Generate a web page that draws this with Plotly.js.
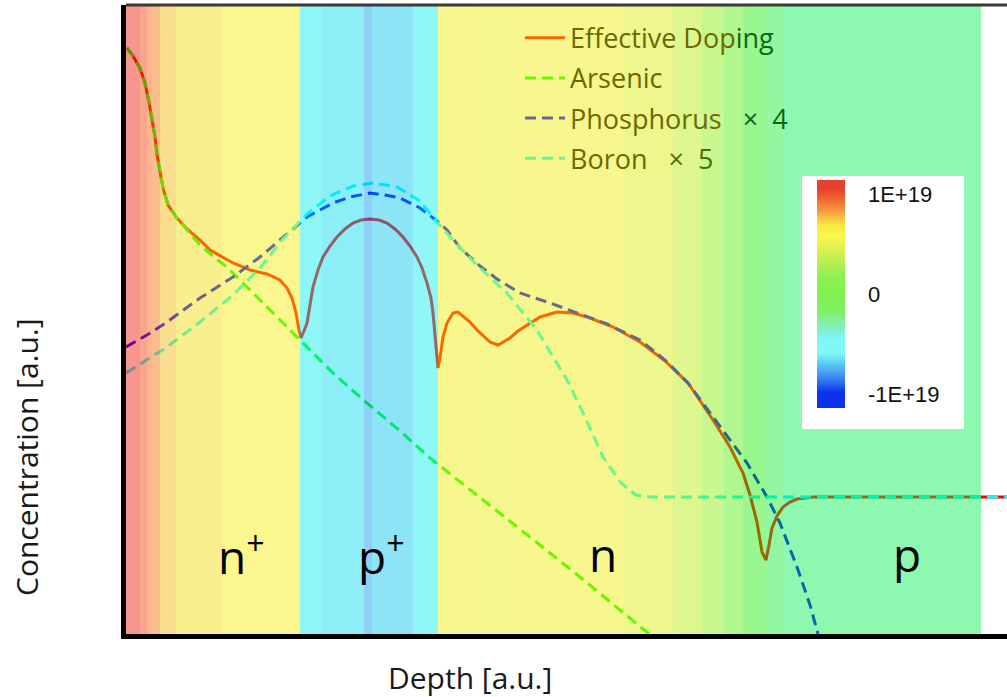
<!DOCTYPE html>
<html>
<head>
<meta charset="utf-8">
<script src="https://cdn.plot.ly/plotly-3.0.1.min.js"></script>
<style>
  html, body { margin: 0; padding: 0; background: #ffffff; }
  #chart { width: 1007px; height: 697px; }
</style>
</head>
<body>
<div id="chart"></div>
<script>
// ---------- DATA (arbitrary units) ----------
const effDepth = [1,7,14,19,23,26,29,31,34,37,42,51,61,74,84,96,107,124,141,154,161,166,170,173,175,178,181,184,187,192,197,204,211,219,227,235,244,253,261,269,277,284,291,296,301,305,307,309,311,312,314,317,321,327,332,337,344,351,358,364,372,379,384,392,401,414,431,447,464,487,514,539,562,587,604,617,624,631,636,640,643,646,651,657,664,671,687,704,881];
const effConc  = [586,578,566,551,532,516,497,480,462,446,429,416,405,394,384,377,371,364,360,354,346,336,321,304,296,303,311,329,347,364,377,388,397,405,411,414,415,414,411,405,397,388,377,366,351,336,321,299,276,266,276,297,311,321,322,318,312,304,297,292,289,293,296,303,309,317,322,321,316,307,292,273,251,214,187,161,139,112,82,74,89,106,118,127,132,135,137,137,137];

const asDepth = [1,7,14,19,23,26,29,31,34,37,42,51,61,74,89,101,117,141,161,174,207,241,274,304,341,374,414,454,488,523];
const asConc  = [586,578,566,551,532,516,497,480,462,446,429,416,404,389,376,367,351,327,307,294,261,231,203,176,147,121,89,57,29,0];

const pDepth = [0,21,41,74,107,134,161,181,207,224,244,259,274,294,311,321,334,354,371,394,424,451,481,514,539,562,587,604,621,641,654,671,684,692];
const pConc  = [287,299,312,336,357,377,400,417,431,437,441,439,436,426,413,404,386,368,355,341,331,321,310,294,274,251,217,194,171,137,111,67,29,0];

const bDepth = [0,21,41,74,107,134,156,181,204,227,247,271,294,311,334,354,367,381,397,411,421,431,441,459,477,495,510,525,881];
const bConc  = [261,274,287,312,339,366,394,420,438,448,451,447,433,412,386,366,354,341,321,304,287,271,254,217,177,151,139,137,137];

// Net doping map along depth (units of 1E+19), drawn as the colour background
const bandEdges = [0,14,21,26,34,50,97,174,196,238,246,287,312,352,390,497,547,576,598,617,639,657,855];
const bandNetDoping = [1.0,0.95,0.9,0.87,0.78,0.69,0.65,-0.35,-0.42,-0.6,-0.48,-0.35,0.64,0.62,0.64,0.58,0.49,0.35,0.23,0.1,-0.02,-0.12];

const seriesNames = [
  'Effective Dop<span style="color:#0a6912">ing</span>',
  'Arsenic',
  'Phosphorus\u00a0\u00a0\u00a0<span style="color:#036914">×\u00a0\u00a04</span>',
  'Boron\u00a0\u00a0\u00a0<span style="color:#556902">×\u00a0\u00a05</span>'
];
const regionLabels = ['n<sup>+</sup>','p<sup>+</sup>','n','p'];
const regionDepth  = [115,255,477,781];
const cbTickVals = [-1, 0, 1];
const cbTickText = ['-1E+19', '0', '1E+19'];

// ---------- STYLE ----------
const overlayScale = [
  [0,'rgb(0,0,239)'],[0.2,'rgb(0,149,239)'],[0.29,'rgb(0,217,239)'],[0.325,'rgb(5,239,239)'],
  [0.44,'rgb(0,239,77)'],[0.55,'rgb(23,239,0)'],[0.675,'rgb(131,239,5)'],[0.825,'rgb(244,239,0)'],
  [0.89,'rgb(246,178,2)'],[0.95,'rgb(244,88,0)'],[1,'rgb(241,16,0)']
];
const barScale = [
  [0,'#1030F0'],[0.07,'#1030F0'],[0.1,'#2060F0'],[0.14,'#4090F0'],[0.17,'#50B0F0'],[0.2,'#60D0F8'],
  [0.24,'#80F8F8'],[0.3,'#80F8F8'],[0.34,'#80F0D0'],[0.38,'#80F0A0'],[0.43,'#80F060'],[0.5,'#80F050'],
  [0.58,'#90F050'],[0.64,'#B8F050'],[0.7,'#E0F050'],[0.75,'#F8F850'],[0.8,'#F8E840'],[0.83,'#F8C840'],
  [0.86,'#F4A040'],[0.9,'#F07A30'],[0.93,'#EC5A30'],[0.96,'#E84030'],[1,'#E84030']
];
const FONT = 'Open Sans, Noto Sans, sans-serif';
const dashPat = '11px,6px';

const traces = [
  {type:'scatter', mode:'lines', x:effDepth, y:effConc, line:{color:'#FF0000', width:3}, showlegend:false, hoverinfo:'skip'},
  {type:'scatter', mode:'lines', x:asDepth, y:asConc, line:{color:'#00FF00', width:3, dash:dashPat}, showlegend:false, hoverinfo:'skip'},
  {type:'scatter', mode:'lines', x:pDepth, y:pConc, line:{color:'#0000FF', width:3, dash:dashPat}, showlegend:false, hoverinfo:'skip'},
  {type:'scatter', mode:'lines', x:bDepth, y:bConc, line:{color:'#00FFFF', width:3, dash:dashPat}, showlegend:false, hoverinfo:'skip'},
  // legend entries (colours as seen through the doping map)
  {type:'scatter', mode:'lines', x:[null], y:[null], name:seriesNames[0], legendgroup:'g0', line:{color:'#F86900', width:3}},
  {type:'scatter', mode:'lines', x:[null], y:[null], name:seriesNames[1], legendgroup:'g1', line:{color:'#69F800', width:3, dash:dashPat}},
  {type:'scatter', mode:'lines', x:[null], y:[null], name:seriesNames[2], legendgroup:'g2', line:{color:'#69698F', width:3, dash:dashPat}},
  {type:'scatter', mode:'lines', x:[null], y:[null], name:seriesNames[3], legendgroup:'g3', line:{color:'#69F88F', width:3, dash:dashPat}},
  // colour scale
  {type:'scatter', mode:'markers', x:[null], y:[null], showlegend:false, hoverinfo:'skip',
   marker:{color:[0], cmin:-1.14, cmax:1.14, colorscale:barScale, showscale:true, opacity:0,
     colorbar:{xref:'container', yref:'container', x:817/1007, xanchor:'left', y:1-200/697, yanchor:'top',
       len:228, lenmode:'pixels', thickness:28, thicknessmode:'pixels', xpad:0, ypad:0,
       outlinewidth:0, ticks:'outside', ticklen:19, tickcolor:'rgba(0,0,0,0)',
       tickvals:cbTickVals, ticktext:cbTickText,
       tickfont:{family:'Liberation Sans, Arial, sans-serif', size:22, color:'#111111'},
       bgcolor:'rgba(0,0,0,0)'}}},
  // doping map laid over the profiles
  {type:'heatmap', x:bandEdges, y:[0,629], z:[bandNetDoping], zmin:-1, zmax:1, colorscale:overlayScale,
   opacity:0.44, showscale:false, xaxis:'x', yaxis:'y2', hoverinfo:'skip'}
];

const annotations = regionLabels.map((t, i) => ({
  text: t, x: regionDepth[i], y: 80, xref:'x', yref:'y', showarrow:false,
  xanchor:'center', yanchor:'middle', font:{family:FONT, size:46, color:'#000000'}
}));
annotations.push({text:'Depth [a.u.]', x:344, y:-0.069, xref:'x', yref:'paper', showarrow:false,
  xanchor:'center', yanchor:'middle', font:{family:FONT, size:30, color:'#1a1a1a'}});
annotations.push({text:'Concentration [a.u.]', x:-0.1124, y:0.2814, xref:'paper', yref:'paper', showarrow:false,
  textangle:-90, xanchor:'center', yanchor:'middle', font:{family:FONT, size:30, color:'#1a1a1a'}});

const layout = {
  width:1007, height:697,
  margin:{l:126, r:0, t:5, b:63, pad:0, autoexpand:false},
  paper_bgcolor:'#ffffff', plot_bgcolor:'#ffffff',
  showlegend:true,
  legend:{x:(520-126)/881, y:0.986, xanchor:'left', yanchor:'top', bgcolor:'rgba(0,0,0,0)',
    borderwidth:0, itemwidth:40, tracegroupgap:2,
    font:{family:FONT, size:27, color:'#6b6900'}},
  xaxis:{range:[0,881], showgrid:false, zeroline:false, showticklabels:false, ticks:'',
    showline:true, linecolor:'#000000', linewidth:5, fixedrange:true},
  yaxis:{range:[0,629], showgrid:false, zeroline:false, showticklabels:false, ticks:'',
    showline:true, linecolor:'#000000', linewidth:5, fixedrange:true},
  yaxis2:{range:[0,629], overlaying:'y', visible:false, fixedrange:true},
  shapes:[
    {type:'rect', xref:'x', yref:'y', x0:676, x1:838, y0:205, y1:458, fillcolor:'#ffffff', line:{width:0}, layer:'above'},
    {type:'line', xref:'paper', yref:'paper', x0:0, x1:1, y0:1, y1:1, line:{color:'#3a3a3a', width:3}, layer:'above'}
  ],
  annotations: annotations
};

Plotly.newPlot('chart', traces, layout, {displayModeBar:false, staticPlot:true});
</script>
</body>
</html>
